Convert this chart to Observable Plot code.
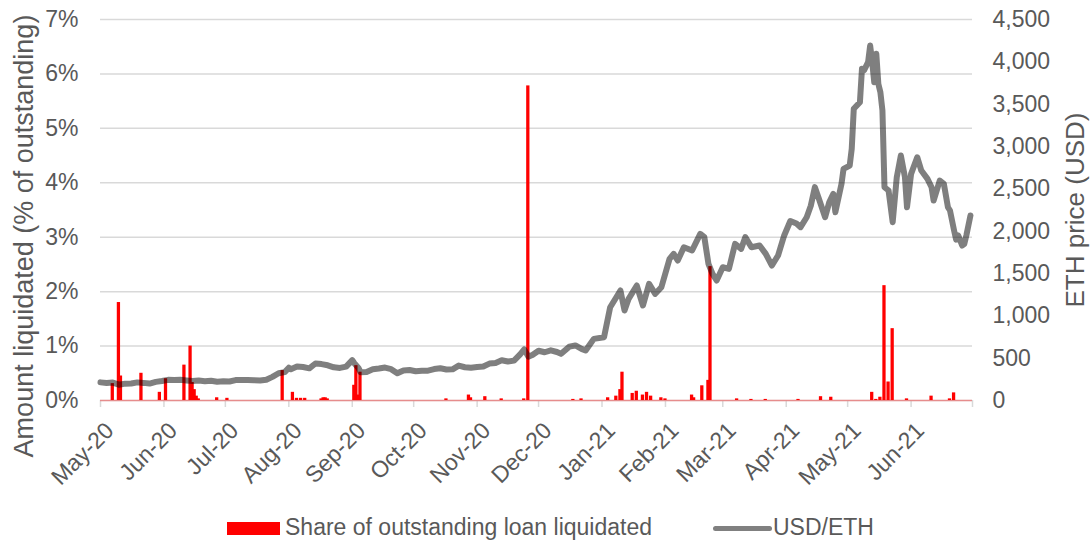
<!DOCTYPE html>
<html><head><meta charset="utf-8">
<script src="https://cdn.jsdelivr.net/npm/d3@7"></script>
<script src="https://cdn.jsdelivr.net/npm/@observablehq/plot@0.6"></script>
<style>
body{margin:0;background:#fff;font-family:"Liberation Sans",Arial,sans-serif;}
#legend{position:relative;width:1091px;height:37px;color:#595959;font-size:23px;}
#legend .sw{position:absolute;}
#legend .tx{position:absolute;line-height:23px;white-space:nowrap;}
</style></head>
<body><div id="chart"></div>
<div id="legend">
  <div class="sw" style="left:227px;top:16.5px;width:53px;height:13px;background:#ff0000"></div>
  <div class="tx" style="left:285px;top:10.5px">Share of outstanding loan liquidated</div>
  <div class="sw" style="left:713px;top:20.5px;width:59px;height:5px;background:#808080;border-radius:3px"></div>
  <div class="tx" style="left:773px;top:10.5px">USD/ETH</div>
</div>
<script>
// X axis month ticks and labels
const monthTicks = ["2020-05-01","2020-06-01","2020-07-01","2020-08-01","2020-09-01","2020-10-01","2020-11-01","2020-12-01","2021-01-01","2021-02-01","2021-03-01","2021-04-01","2021-05-01","2021-06-01","2021-07-01"];
const monthLabels = ["May-20","Jun-20","Jul-20","Aug-20","Sep-20","Oct-20","Nov-20","Dec-20","Jan-21","Feb-21","Mar-21","Apr-21","May-21","Jun-21",""];
// Left axis (% liquidated) and right axis (USD) ticks
const pctTicks = [0,1,2,3,4,5,6,7];
const usdTicks = [0,500,1000,1500,2000,2500,3000,3500,4000,4500];

// Share of outstanding loan liquidated (% per day)
const liqDates = ["2020-05-07","2020-05-10","2020-05-11","2020-05-21","2020-05-30","2020-06-02","2020-06-11","2020-06-14","2020-06-15","2020-06-16","2020-06-17","2020-06-18","2020-06-27","2020-07-02","2020-07-29","2020-08-03","2020-08-05","2020-08-07","2020-08-09","2020-08-17","2020-08-18","2020-08-19","2020-08-20","2020-09-02","2020-09-03","2020-09-04","2020-09-05","2020-10-17","2020-10-28","2020-10-29","2020-11-05","2020-11-13","2020-11-24","2020-11-26","2020-12-18","2020-12-22","2021-01-04","2021-01-08","2021-01-10","2021-01-11","2021-01-16","2021-01-18","2021-01-21","2021-01-23","2021-01-25","2021-01-30","2021-02-01","2021-02-14","2021-02-15","2021-02-19","2021-02-22","2021-02-23","2021-03-08","2021-03-15","2021-03-22","2021-04-07","2021-04-18","2021-04-23","2021-05-13","2021-05-15","2021-05-17","2021-05-19","2021-05-21","2021-05-23","2021-05-30","2021-06-11","2021-06-20","2021-06-22"];
const liqValues = [0.31,1.80,0.45,0.50,0.15,0.40,0.65,1.00,0.33,0.20,0.08,0.03,0.05,0.04,0.55,0.15,0.04,0.04,0.04,0.03,0.05,0.05,0.03,0.28,0.64,0.10,0.52,0.03,0.10,0.05,0.07,0.03,0.03,5.78,0.02,0.03,0.05,0.08,0.20,0.52,0.13,0.17,0.10,0.15,0.08,0.05,0.03,0.10,0.05,0.27,0.37,2.46,0.03,0.02,0.02,0.02,0.07,0.06,0.15,0.02,0.06,2.11,0.34,1.32,0.03,0.08,0.03,0.14];

// ETH price in USD
const priceDates = ["2020-05-01","2020-05-04","2020-05-07","2020-05-10","2020-05-13","2020-05-16","2020-05-19","2020-05-22","2020-05-25","2020-05-28","2020-05-31","2020-06-03","2020-06-06","2020-06-09","2020-06-12","2020-06-15","2020-06-18","2020-06-21","2020-06-24","2020-06-27","2020-06-30","2020-07-03","2020-07-06","2020-07-09","2020-07-12","2020-07-15","2020-07-18","2020-07-21","2020-07-24","2020-07-27","2020-07-30","2020-08-01","2020-08-02","2020-08-05","2020-08-08","2020-08-11","2020-08-14","2020-08-17","2020-08-20","2020-08-23","2020-08-26","2020-08-29","2020-09-01","2020-09-02","2020-09-04","2020-09-05","2020-09-08","2020-09-11","2020-09-14","2020-09-17","2020-09-20","2020-09-23","2020-09-26","2020-09-29","2020-10-02","2020-10-05","2020-10-08","2020-10-11","2020-10-14","2020-10-17","2020-10-20","2020-10-23","2020-10-26","2020-10-29","2020-11-01","2020-11-04","2020-11-07","2020-11-10","2020-11-13","2020-11-16","2020-11-19","2020-11-22","2020-11-24","2020-11-26","2020-11-28","2020-12-01","2020-12-04","2020-12-07","2020-12-10","2020-12-12","2020-12-16","2020-12-19","2020-12-22","2020-12-24","2020-12-28","2021-01-02","2021-01-05","2021-01-08","2021-01-10","2021-01-12","2021-01-14","2021-01-18","2021-01-21","2021-01-24","2021-01-27","2021-01-30","2021-02-03","2021-02-05","2021-02-07","2021-02-10","2021-02-14","2021-02-18","2021-02-20","2021-02-22","2021-02-24","2021-02-26","2021-03-01","2021-03-04","2021-03-07","2021-03-10","2021-03-12","2021-03-15","2021-03-19","2021-03-22","2021-03-25","2021-03-28","2021-03-31","2021-04-03","2021-04-06","2021-04-08","2021-04-11","2021-04-13","2021-04-15","2021-04-17","2021-04-20","2021-04-22","2021-04-24","2021-04-25","2021-04-28","2021-04-29","2021-05-02","2021-05-03","2021-05-04","2021-05-07","2021-05-08","2021-05-09","2021-05-11","2021-05-12","2021-05-13","2021-05-14","2021-05-15","2021-05-16","2021-05-17","2021-05-18","2021-05-19","2021-05-21","2021-05-23","2021-05-25","2021-05-27","2021-05-29","2021-05-30","2021-06-01","2021-06-04","2021-06-06","2021-06-09","2021-06-11","2021-06-12","2021-06-15","2021-06-17","2021-06-19","2021-06-20","2021-06-22","2021-06-23","2021-06-24","2021-06-26","2021-06-27","2021-06-28","2021-06-30"];
const priceValues = [214,208,212,187,199,200,214,208,200,220,231,244,241,244,237,230,235,228,234,222,226,225,241,243,241,239,236,245,279,322,335,387,370,402,395,380,437,430,416,392,385,400,477,440,385,335,337,368,377,389,370,321,355,360,346,352,352,371,380,367,368,412,393,386,396,401,436,444,475,460,471,545,604,518,538,588,570,593,573,551,636,650,610,590,728,748,1102,1220,1299,1063,1201,1358,1122,1378,1260,1338,1673,1732,1653,1810,1772,1968,1929,1614,1496,1417,1574,1555,1850,1791,1929,1810,1830,1732,1594,1712,1949,2120,2090,2047,2165,2300,2520,2380,2165,2340,2440,2224,2559,2736,2775,2972,3445,3523,3917,3900,3996,4193,3996,3760,4095,3740,3641,3425,2519,2480,2106,2637,2893,2637,2283,2677,2873,2716,2618,2519,2362,2598,2559,2283,2244,2008,1900,1950,1830,1850,1950,2185];

const USD_MAX = 4500, PCT_MAX = 7;
const toPct = v => v * PCT_MAX / USD_MAX;
const DAY = 864e5;
const liq = liqDates.map((d, i) => ({date: new Date(d), value: liqValues[i]}));
const price = priceDates.map((d, i) => ({date: new Date(d), price: priceValues[i]}));
const ticks = monthTicks.map((d, i) => ({date: new Date(d), label: monthLabels[i]}));
const grey = "#595959";
const fmt = d3.format(",");

const chart = Plot.plot({
  width: 1091, height: 505,
  marginTop: 19, marginBottom: 105, marginLeft: 100, marginRight: 119,
  style: {fontFamily: '"Liberation Sans", Arial, sans-serif', fontSize: "23px", color: grey, background: "white"},
  x: {type: "utc", domain: [new Date(monthTicks[0]), new Date(monthTicks[monthTicks.length - 1])]},
  y: {domain: [0, PCT_MAX]},
  marks: [
    Plot.gridY(pctTicks.slice(1), {stroke: "#d9d9d9", strokeOpacity: 1, strokeWidth: 1.5}),
    Plot.ruleY([0], {stroke: "#d9d9d9", strokeWidth: 1.5}),
    Plot.axisX(ticks.map(t => t.date), {tickSize: 7, stroke: "#d9d9d9", strokeWidth: 1.5, fill: "none", label: null}),
    Plot.text(ticks.filter(t => t.label), {x: "date", y: () => 0, text: "label", rotate: -45, textAnchor: "end", lineAnchor: "top", dx: 3, dy: 20, fill: grey, fontSize: 23}),
    Plot.axisY(pctTicks, {tickSize: 0, tickPadding: 22, tickFormat: d => d + "%", label: null, fill: grey}),
    Plot.axisY(usdTicks.map(toPct), {anchor: "right", tickSize: 0, tickPadding: 20, tickFormat: d => fmt(Math.round(d * USD_MAX / PCT_MAX)), label: null, fill: grey}),
    Plot.rect(liq, {x1: d => new Date(+d.date - 0.8 * DAY), x2: d => new Date(+d.date + 0.8 * DAY), y1: 0, y2: "value", fill: "#ff0000"}),
    Plot.ruleY([0], {stroke: "#ff0000", strokeOpacity: 0.35, strokeWidth: 1.5}),
    Plot.line(price, {x: "date", y: d => toPct(d.price), stroke: "black", strokeOpacity: 0.5, strokeWidth: 6, strokeLinejoin: "round", strokeLinecap: "round"}),
    Plot.text(["Amount liquidated (% of outstanding)"], {text: d => d, frameAnchor: "left", textAnchor: "middle", lineAnchor: "middle", rotate: -90, dx: -76, dy: 26, fontSize: 27, fill: grey}),
    Plot.text(["ETH price (USD)"], {text: d => d, frameAnchor: "right", textAnchor: "middle", lineAnchor: "middle", rotate: -90, dx: 103, dy: 0, fontSize: 26, fill: grey})
  ]
});
document.getElementById("chart").appendChild(chart);
</script>
</body></html>
